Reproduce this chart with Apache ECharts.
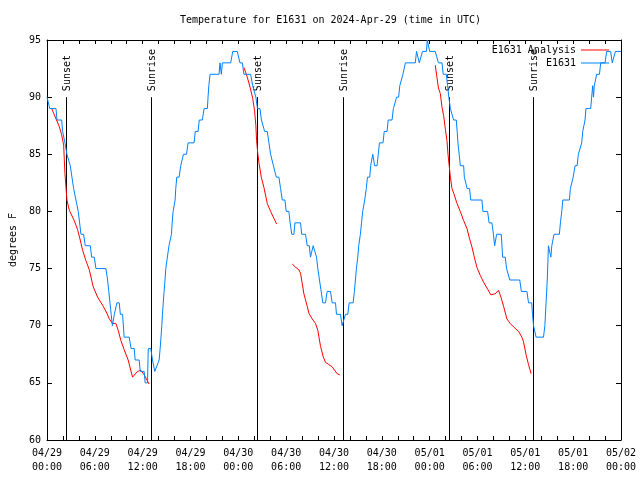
<!DOCTYPE html>
<html><head><meta charset="utf-8">
<script src="https://cdn.jsdelivr.net/npm/echarts@6/dist/echarts.min.js"></script>
<style>html,body{margin:0;padding:0;background:#fff}#c{width:640px;height:480px}</style>
</head><body><div id="c"></div>
<script>
// ---- data (x = hours since 2024-04-29 00:00 UTC, y = degrees F) ----
const titleText = 'Temperature for E1631 on 2024-Apr-29 (time in UTC)';
const yAxisName = 'degrees F';
const xTickLabels = ['04/29\n00:00','04/29\n06:00','04/29\n12:00','04/29\n18:00',
  '04/30\n00:00','04/30\n06:00','04/30\n12:00','04/30\n18:00',
  '05/01\n00:00','05/01\n06:00','05/01\n12:00','05/01\n18:00','05/02\n00:00'];
const eventHours = [2.38, 13.02, 26.3, 37.08, 50.38, 61.02];
const eventNames = ['Sunset','Sunrise','Sunset','Sunrise','Sunset','Sunrise'];

const analysisSeg1 = [[0.6,89.0],[0.71,88.8],[1.13,88.1],[1.55,87.4],[1.84,86.7],[2.09,85.8],[2.25,83.3],[2.5,81.0],
  [2.8,80.1],[3.42,79.2],[3.84,78.4],[4.17,77.5],[4.47,76.6],[4.88,75.7],[5.3,74.9],[5.8,73.4],[6.35,72.5],
  [6.97,71.8],[7.51,71.1],[7.81,70.6],[8.22,70.2],[8.64,70.2],[8.93,69.6],[9.27,68.7],[9.68,67.9],[10.18,67.0],
  [10.73,65.5],[11.35,66.0],[11.77,66.1],[12.19,65.7],[12.81,64.9]];
const analysisSeg2 = [[24.7,92.6],[25.1,91.8],[25.5,90.8],[25.8,89.9],[26.04,88.8],[26.2,87.5],[26.29,86.2],
  [26.45,85.0],[26.6,84.2],[26.88,83.0],[27.21,82.1],[27.63,80.7],[28.05,80.0],[28.46,79.4],[28.8,78.9]];
const analysisSeg3 = [[30.76,75.4],[31.2,75.1],[31.59,74.9],[31.8,74.6],[32.22,72.8],[32.64,71.7],[32.85,71.1],
  [33.26,70.6],[33.68,70.2],[33.97,69.6],[34.31,68.2],[34.64,67.3],[34.93,66.8],[35.35,66.6],[35.77,66.4],
  [36.39,65.8],[36.73,65.7]];
const analysisSeg4 = [[48.7,92.8],[48.9,91.8],[49.1,90.8],[49.34,90.3],[49.55,89.1],[49.75,88.4],[49.97,87.2],
  [50.17,86.2],[50.3,85.0],[50.45,84.0],[50.6,83.0],[50.8,82.0],[51.01,81.6],[51.43,80.7],[51.84,80.0],
  [52.26,79.2],[52.68,78.5],[53.01,77.6],[53.3,76.9],[53.6,76.0],[53.93,75.1],[54.35,74.4],[54.77,73.8],
  [55.27,73.2],[55.68,72.7],[56.23,72.8],[56.64,73.1],[56.94,72.5],[57.27,71.7],[57.69,70.6],[58.1,70.2],
  [58.52,69.9],[59.15,69.5],[59.57,69.0],[59.77,68.6],[60.11,67.4],[60.4,66.6],[60.73,65.8]];

const observed = [[0,90],[0.25,90],[0.35,89],[1.13,89],[1.25,88],[1.84,88],[1.96,87],[2.25,86],[2.5,85],[2.92,84],
  [3.34,82],[3.63,81],[3.92,80],[4.26,78],[4.59,78],[4.8,77],[5.43,77],[5.6,76],[5.93,76],[6.14,75],[7.39,75],
  [7.6,74],[7.75,73],[7.9,72],[8.05,71],[8.2,70],[8.35,70],[8.45,71],[8.6,71],[8.77,72],[9.06,72],[9.2,71],
  [9.48,71],[9.68,69],[10.31,69],[10.45,69],[10.55,68],[10.94,68],[11.06,67],[11.56,67],[11.7,66],[12.19,66],
  [12.31,65],[12.61,65],[12.7,68],[13.02,68],[13.23,67],[13.52,66],[13.77,66],[14.07,67],[14.19,68],[14.3,69],
  [14.4,70],[14.48,71],[14.58,72],[14.69,73],[14.8,74],[14.9,75],[15.1,76],[15.3,77],[15.44,77],[15.61,78],
  [15.7,79],[15.82,80],[16.07,81],[16.15,82],[16.28,83],[16.57,83],[16.78,84],[17.11,85],[17.5,85],[17.7,86],
  [18.45,86],[18.6,87],[18.95,87],[19.1,88],[19.49,88],[19.7,89],[20.12,89],[20.2,90],[20.3,91],[20.45,92],
  [21.58,92],[21.7,93],[21.8,93],[21.87,92],[22.0,93],[23.04,93],[23.3,94],[23.87,94],[24.1,94],[24.2,93],
  [24.5,93],[24.7,92],[25.54,92],[25.8,91],[26.04,91],[26.2,90],[26.4,89],[26.71,89],[26.9,88],[27.13,88],
  [27.3,87],[27.63,87],[27.84,86],[28.05,85],[28.26,85],[28.4,84],[28.6,84],[28.76,83],[29.09,83],[29.3,82],
  [29.51,81],[29.84,81],[30.01,80],[30.34,80],[30.5,79],[30.7,78],[30.97,78],[31.1,79],[31.8,79],[31.95,78],
  [32.43,78],[32.64,77],[32.9,77],[33.05,76],[33.26,76],[33.39,77],[33.6,77],[33.81,76],[33.97,75],[34.18,74],
  [34.39,73],[34.6,72],[34.93,72],[35.14,73],[35.56,73],[35.77,72],[36.19,72],[36.31,71],[36.81,71],[37.02,70],
  [37.23,70],[37.44,71],[37.73,71],[37.9,72],[38.4,72],[38.56,73],[38.7,73],[38.81,75],[38.98,76],[39.1,77],
  [39.31,78],[39.45,79],[39.6,80],[39.73,80],[39.85,81],[40.05,82],[40.2,83],[40.48,83],[40.6,84],[40.86,85],
  [40.98,85],[41.1,84],[41.4,84],[41.55,85],[41.7,86],[42.15,86],[42.3,87],[42.65,87],[42.8,88],[43.28,88],
  [43.45,89],[43.7,89],[43.85,90],[44.11,90],[44.25,91],[44.5,91],[44.65,92],[44.8,92],[44.95,93],[46.2,93],
  [46.35,94],[46.5,94],[46.7,93],[46.91,93],[47.1,94],[47.6,94],[47.7,95],[47.85,95],[48.0,94],[48.7,94],
  [49.1,93],[49.55,93],[49.7,92],[50.09,92],[50.25,91],[50.4,90],[50.6,89],[50.8,89],[51.0,88],[51.34,88],
  [51.45,87],[51.55,86],[51.7,85],[51.85,84],[52.26,84],[52.35,83],[52.6,83],[52.7,82],[53.01,82],[53.15,81],
  [54.56,81],[54.68,80],[55.27,80],[55.45,79],[55.81,79],[56.0,78],[56.15,77],[56.3,77],[56.4,78],[56.98,78],
  [57.15,76],[57.48,76],[57.65,75],[57.9,75],[58.05,74],[59.3,74],[59.5,73],[60.2,73],[60.4,72],[60.8,72],
  [60.9,71],[61.03,70],[61.35,69],[62.28,69],[62.45,70],[62.6,72],[62.75,74],[62.9,77],[63.11,77],[63.2,76],
  [63.32,77],[63.5,77],[63.6,78],[64.27,78],[64.4,79],[64.57,80],[64.7,81],[65.53,81],[65.65,82],[65.9,82],
  [66.0,83],[66.15,83],[66.24,84],[66.5,84],[66.65,85],[66.9,85],[67.07,86],[67.2,87],[67.35,87],[67.49,88],
  [67.6,89],[68.2,89],[68.32,90],[68.45,91],[68.55,90],[68.65,91],[68.8,91],[68.95,92],[69.3,92],[69.45,93],
  [70.0,93],[70.2,94],[70.7,94],[70.9,93],[71.04,93],[71.3,94],[72,94]];

// ---- chart ----
const FONT = '"DejaVu Sans Mono", monospace';
const txt = {fontFamily: FONT, fontSize: 10, color: '#000'};
const chart = echarts.init(document.getElementById('c'), null, {renderer: 'canvas'});

function xAxisDef(pos, showLabels) {
  return {
    type: 'value', min: 0, max: 72, interval: 2, position: pos,
    axisLine: {show: true, onZero: false, lineStyle: {color: '#000', width: 1}},
    axisTick: {show: true, inside: true, length: 4, lineStyle: {color: '#000'}},
    splitLine: {show: false},
    axisLabel: {show: showLabels, ...txt, lineHeight: 14, margin: 6,
      formatter: v => (v % 6 === 0 ? xTickLabels[v / 6] : '')}
  };
}
function yAxisDef(pos, showLabels) {
  const a = {
    type: 'value', min: 60, max: 95, interval: 5, position: pos,
    axisLine: {show: true, onZero: false, lineStyle: {color: '#000', width: 1}},
    axisTick: {show: true, inside: true, length: 5, lineStyle: {color: '#000'}},
    splitLine: {show: false},
    axisLabel: {show: showLabels, ...txt, margin: 6}
  };
  if (showLabels) {
    a.name = yAxisName; a.nameLocation = 'middle'; a.nameRotate = 90; a.nameGap = 29;
    a.nameTextStyle = {...txt};
  }
  return a;
}

const redStyle = {type: 'line', name: 'E1631 Analysis', symbol: 'none', color: '#ff0000',
  lineStyle: {color: '#ff0000', width: 1}, z: 3};
const lineIcon = 'path://M0,0H28V1H0Z';

const option = {
  animation: false,
  backgroundColor: '#fff',
  title: {text: titleText, left: 180, top: 14, padding: 0,
    textStyle: {...txt, fontWeight: 'normal', lineHeight: 12}},
  legend: {orient: 'vertical', right: 31, top: 45, padding: 0, align: 'right',
    itemWidth: 28, itemHeight: 10, itemGap: 3, textStyle: {...txt},
    data: [{name: 'E1631 Analysis', icon: lineIcon}, {name: 'E1631', icon: lineIcon}]},
  grid: {left: 46, right: 19, top: 40, bottom: 40, containLabel: false},
  xAxis: [xAxisDef('bottom', true), xAxisDef('top', false)],
  yAxis: [yAxisDef('left', true), yAxisDef('right', false)],
  series: [
    {type: 'custom', name: 'events', z: 2, silent: true,
      data: eventHours.map(h => [h, 90]),
      renderItem: function (params, api) {
        const h = api.value(0);
        const top = api.coord([h, 90]);
        const bot = api.coord([h, 60]);
        const x = Math.round(top[0]) + 0.5;
        return {type: 'group', children: [
          {type: 'line', shape: {x1: x, y1: top[1], x2: x, y2: bot[1]},
            style: {stroke: '#000', lineWidth: 1}},
          {type: 'text', x: x + 1, y: top[1] - 6, rotation: Math.PI / 2,
            style: {text: eventNames[params.dataIndex], fill: '#000', font: '10px ' + FONT,
              align: 'left', verticalAlign: 'middle'}}
        ]};
      }},
    {...redStyle, data: analysisSeg1},
    {...redStyle, data: analysisSeg2},
    {...redStyle, data: analysisSeg3},
    {...redStyle, data: analysisSeg4},
    {type: 'line', name: 'E1631', symbol: 'none', color: '#0080ff',
      lineStyle: {color: '#0080ff', width: 1}, data: observed, z: 4}
  ]
};
chart.setOption(option);
</script>
</body></html>
